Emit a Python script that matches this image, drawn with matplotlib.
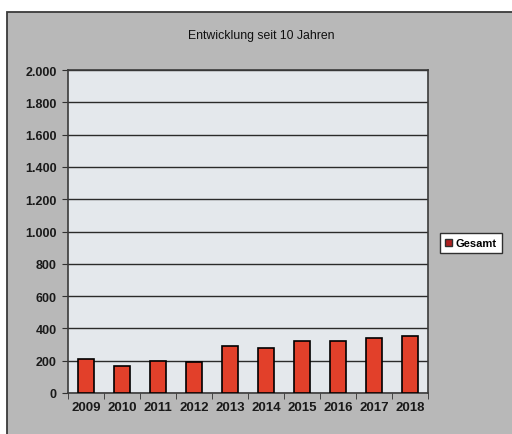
import matplotlib
matplotlib.use('Agg')
import matplotlib.pyplot as plt
from matplotlib.patches import Rectangle, Patch
from matplotlib.ticker import FuncFormatter

plt.rcParams['font.family'] = ['Liberation Sans', 'DejaVu Sans']

# yearly totals
years = ['2009', '2010', '2011', '2012', '2013', '2014', '2015', '2016', '2017', '2018']
gesamt = [210, 170, 197, 195, 288, 277, 321, 321, 342, 352]
title = 'Entwicklung seit 10 Jahren'

W, H = 512, 435
fig = plt.figure(figsize=(W / 100, H / 100), dpi=100)
fig.patch.set_facecolor('white')

# grey chart frame, kept behind the axes
frame = Rectangle((7 / W, -0.05), 1.1, 1 - 13 / H + 0.05, transform=fig.transFigure,
                  facecolor='#b8b8b8', edgecolor='#3a3a3a', linewidth=1.3, zorder=-10)
fig.patches.append(frame)

ax = fig.add_axes([68 / W, 1 - 394 / H, (428 - 68) / W, (394 - 71) / H])
ax.set_zorder(1)
ax.set_facecolor('#e4e8ec')
x = range(len(years))
ax.bar(x, gesamt, width=0.44, color='#e2402a', edgecolor='black', linewidth=1.2, zorder=3)

ax.set_ylim(0, 2000)
ax.set_xlim(-0.5, len(years) - 0.5)
ax.set_yticks(range(0, 2001, 200))
ax.yaxis.set_major_formatter(FuncFormatter(lambda v, p: f'{int(v):,}'.replace(',', '.')))
ax.set_xticks(x)
ax.set_xticklabels(years)
ax.set_xticks([i - 0.5 for i in range(len(years) + 1)], minor=True)
ax.grid(axis='y', color='#2a2a2a', linewidth=1.0, zorder=1)
ax.tick_params(axis='x', which='major', length=0, pad=6)
ax.tick_params(axis='x', which='minor', length=4, color='#303030')
ax.tick_params(axis='y', length=4, color='#303030', pad=4)
for lab in ax.get_xticklabels():
    lab.set_fontsize(9.5)
    lab.set_fontweight('bold')
    lab.set_color('#1a1a1a')
for lab in ax.get_yticklabels():
    lab.set_fontsize(9)
    lab.set_fontweight('bold')
    lab.set_color('#1a1a1a')
for s in ax.spines.values():
    s.set_color('#3a3a3a')
    s.set_linewidth(1.2)

fig.text(261 / W, 1 - 36 / H, title, ha='center', va='center', fontsize=8.8, color='#101010')

leg = fig.legend(handles=[Patch(facecolor='#b02020', edgecolor='#303030', label='Gesamt')],
                 loc='center', bbox_to_anchor=(471 / W, 1 - 244 / H),
                 frameon=True, fancybox=False, edgecolor='#303030', framealpha=1,
                 handlelength=0.6, handleheight=0.6, handletextpad=0.3, borderpad=0.45,
                 prop={'weight': 'bold', 'size': 8})
leg.set_zorder(2)

fig.savefig('out.png', dpi=100)
